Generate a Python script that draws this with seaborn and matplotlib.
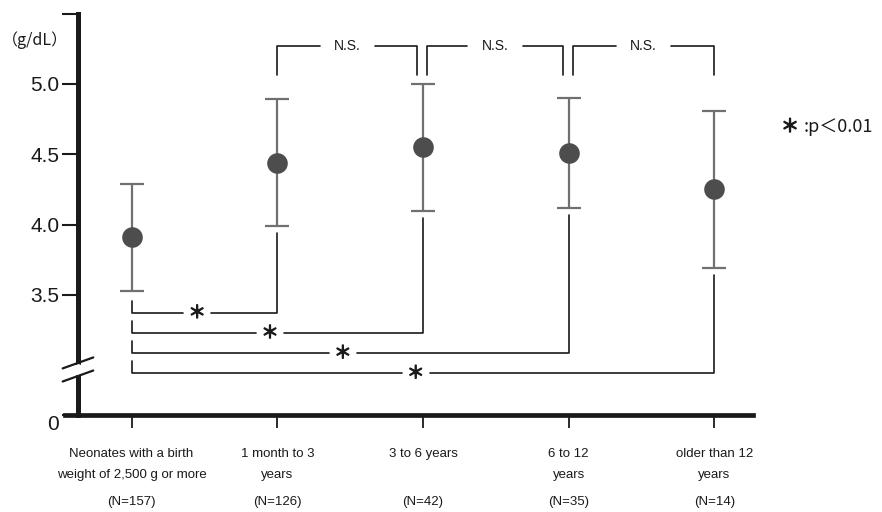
import numpy as np
import matplotlib.pyplot as plt
import matplotlib.patheffects as pe
from matplotlib.transforms import ScaledTranslation, blended_transform_factory
import seaborn as sns

# serum albumin by age group (mean +/- SD)
groups = ["Neonates with a birth\nweight of 2,500 g or more",
          "1 month to 3\nyears",
          "3 to 6 years\n",
          "6 to 12\nyears",
          "older than 12\nyears"]
n_counts = [157, 126, 42, 35, 14]
means = [3.91, 4.44, 4.55, 4.51, 4.25]
sds = [0.38, 0.45, 0.45, 0.39, 0.56]

star_pairs = [(0, 1), (0, 2), (0, 3), (0, 4)]
ns_pairs = [(1, 2), (2, 3), (3, 4)]

ytick_vals = [3.5, 4.0, 4.5, 5.0, 5.5]
ytick_text = ["3.5", "4.0", "4.5", "5.0", ""]

sns.set_theme(style="white")
plt.rcParams["font.family"] = ["Liberation Sans", "Noto Sans CJK JP", "DejaVu Sans"]
narrow = ["Liberation Sans Narrow", "Liberation Sans", "Noto Sans CJK JP"]
cjk = ["Noto Sans CJK JP", "DejaVu Sans"]

axis_zero = 2.647   # where "0" sits below the axis break
ink = "#1a1a1a"
bold = [pe.withStroke(linewidth=0.9, foreground=ink)]

fig = plt.figure(figsize=(8.82, 5.12), dpi=100)
ax = fig.add_axes([65 / 882, 97 / 512, 688 / 882, 401.5 / 512])

pos = np.arange(len(groups))
ax.errorbar(pos, means, yerr=sds, fmt="none", ecolor="#707070",
            elinewidth=1.6, capsize=8.5, capthick=1.6, zorder=3)
sns.scatterplot(x=pos, y=means, s=220, color="#4d4d4d", edgecolor="#4d4d4d",
                linewidth=0, zorder=4, ax=ax, legend=False)

ax.set_xlim(-0.457, 4.265)
ax.set_ylim(axis_zero, 5.5)
spine_x = -0.368

for side in ["top", "right"]:
    ax.spines[side].set_visible(False)
ax.spines["left"].set_position(("data", spine_x))
ax.spines["left"].set_linewidth(3.6)
ax.spines["left"].set_color(ink)
ax.spines["bottom"].set_linewidth(3.4)
ax.spines["bottom"].set_color(ink)

ax.set_yticks([axis_zero] + ytick_vals)
ax.set_yticklabels(["0"] + ytick_text)
ax.tick_params(axis="y", direction="out", length=11.5, width=1.5, colors=ink,
               labelsize=15, pad=2, left=True)
zero_lab = ax.get_yticklabels()[0]
zero_lab.set_transform(zero_lab.get_transform()
                       + ScaledTranslation(0, -0.08, fig.dpi_scale_trans))
ax.set_xticks(pos)
ax.set_xticklabels(groups, family=narrow, fontsize=9.5, linespacing=2.0)
ax.tick_params(axis="x", direction="out", length=9, width=1.3, colors=ink,
               pad=14.5, bottom=True)
ax.grid(False)

# group sizes under the names
n_trans = blended_transform_factory(ax.transData, fig.transFigure)
for p, n in zip(pos, n_counts):
    ax.text(p, 1 - 502 / 512, f"(N={n})", transform=n_trans, family=narrow,
            fontsize=9.5, color=ink, ha="center", va="center")

# axis break marks
for yc in [3.017, 2.924]:
    ax.plot([spine_x - 0.105, spine_x + 0.105], [yc - 0.039, yc + 0.039],
            color=ink, lw=1.6, clip_on=False, zorder=6)
ax.plot([spine_x, spine_x], [2.95, 2.99], color="white", lw=5,
        clip_on=False, zorder=5)

line_kw = dict(color=ink, lw=1.2, clip_on=False, zorder=2)

# "*" brackets from the neonate group
for k, (a, b) in enumerate(star_pairs):
    level = 3.372 - 0.143 * k
    x_star = (a + b) / 2 - 0.05
    gap = 0.095
    ax.plot([a, a, x_star - gap], [level + 0.085, level, level], **line_kw)
    ax.plot([x_star + gap, b, b],
            [level, level, means[b] - sds[b] - 0.05], **line_kw)
    ax.text(x_star, level, "＊", family=cjk, fontsize=12.5, color=ink,
            ha="center", va="center", path_effects=bold)

# N.S. brackets between neighbouring groups
ns_level = 5.266
for k, (a, b) in enumerate(ns_pairs):
    xa = a + (0.03 if k > 0 else 0)
    xb = b - (0.04 if k < len(ns_pairs) - 1 else 0)
    mid = (xa + xb) / 2
    gap = 0.19
    ax.plot([xa, xa, mid - gap], [ns_level - 0.2, ns_level, ns_level], **line_kw)
    ax.plot([mid + gap, xb, xb], [ns_level, ns_level, ns_level - 0.2], **line_kw)
    ax.text(mid, ns_level, "N.S.", family=narrow, fontsize=10, color=ink,
            ha="center", va="center")

fig.text(35 / 882, 1 - 40 / 512, "（g/dL）", family=cjk, fontsize=11.5,
         color=ink, ha="center", va="center")
fig.text(790 / 882, 1 - 127 / 512, "＊", family=cjk, fontsize=13,
         color=ink, ha="center", va="center", path_effects=bold)
fig.text(804 / 882, 1 - 127 / 512, ":p＜0.01", family=cjk, fontsize=13,
         color=ink, ha="left", va="center")

fig.savefig("out.png", dpi=100, facecolor="white")
